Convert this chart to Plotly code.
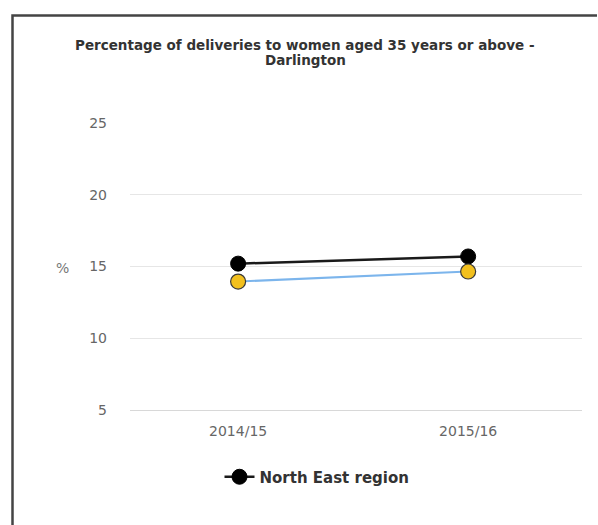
import plotly.graph_objects as go

# Financial years shown on the x axis
years = ["2014/15", "2015/16"]

# Percentage of deliveries to women aged 35+
darlington = [13.95, 14.65]
north_east = [15.2, 15.7]

y_ticks = [5, 10, 15, 20, 25]

title_lines = ["Percentage of deliveries to women aged 35 years or above -", "Darlington"]

FONT = "DejaVu Sans"

fig = go.Figure()

fig.add_trace(go.Scatter(
    x=years, y=north_east, name="North East region",
    mode="lines+markers",
    line=dict(color="#1a1a1a", width=2.5),
    marker=dict(size=15, color="#000000", line=dict(color="#000000", width=1)),
    showlegend=True,
))

fig.add_trace(go.Scatter(
    x=years, y=darlington, name="Darlington",
    mode="lines+markers",
    line=dict(color="#7cb5ec", width=2),
    marker=dict(size=15, color="#f2c01e", line=dict(color="#3a3a3a", width=1.2)),
    showlegend=False,
))

L, R, T, B = 130, 16, 123, 115
W, H = 598, 525
pw, ph = W - L - R, H - T - B

def px_to_paper_x(px):
    return (px - L) / pw

def px_to_paper_y(py):
    return (H - B - py) / ph

# Frame around the chart (left and top edges as one open path)
fx0 = px_to_paper_x(12.5)
fx1 = px_to_paper_x(597)
fy_top = px_to_paper_y(15.5)
fy_bot = px_to_paper_y(528)
fig.add_shape(type="path", xref="paper", yref="paper",
              path=f"M {fx0},{fy_bot} L {fx0},{fy_top} L {fx1},{fy_top}",
              line=dict(color="#444444", width=2.5))

# Two-line chart title
for text, ypx in zip(title_lines, [45, 60]):
    fig.add_annotation(
        text=text, xref="paper", yref="paper",
        x=px_to_paper_x(305), y=px_to_paper_y(ypx),
        xanchor="center", yanchor="middle", showarrow=False,
        font=dict(family=FONT, size=13.5, color="#333333", weight="bold"),
    )

# Unit label beside the y axis
fig.add_annotation(
    text="%", xref="paper", yref="paper",
    x=px_to_paper_x(62), y=px_to_paper_y(268),
    xanchor="center", yanchor="middle", showarrow=False,
    font=dict(family=FONT, size=14, color="#777777"),
)

fig.update_layout(
    width=W, height=H,
    margin=dict(l=L, r=R, t=T, b=B),
    paper_bgcolor="white",
    plot_bgcolor="white",
    font=dict(family=FONT, color="#666666"),
    xaxis=dict(
        type="category",
        range=[-0.47, 1.495],
        showgrid=False,
        showline=True, linecolor="#d8d8d8", linewidth=1,
        ticks="", tickfont=dict(family=FONT, size=14, color="#666666"),
        ticklabelstandoff=8,
        zeroline=False,
    ),
    yaxis=dict(
        range=[5, 25],
        tickvals=y_ticks,
        showgrid=True, gridcolor="#e6e6e6", gridwidth=1,
        zeroline=False, showline=False,
        ticks="", tickfont=dict(family=FONT, size=14, color="#666666"),
        ticklabelstandoff=22,
    ),
    legend=dict(
        orientation="h",
        x=px_to_paper_x(317), xanchor="center",
        y=px_to_paper_y(477), yanchor="middle",
        font=dict(family=FONT, size=15, color="#333333", weight="bold"),
        bgcolor="rgba(0,0,0,0)",
    ),
    showlegend=True,
)

fig.write_html("out.html", config={"displayModeBar": False})
